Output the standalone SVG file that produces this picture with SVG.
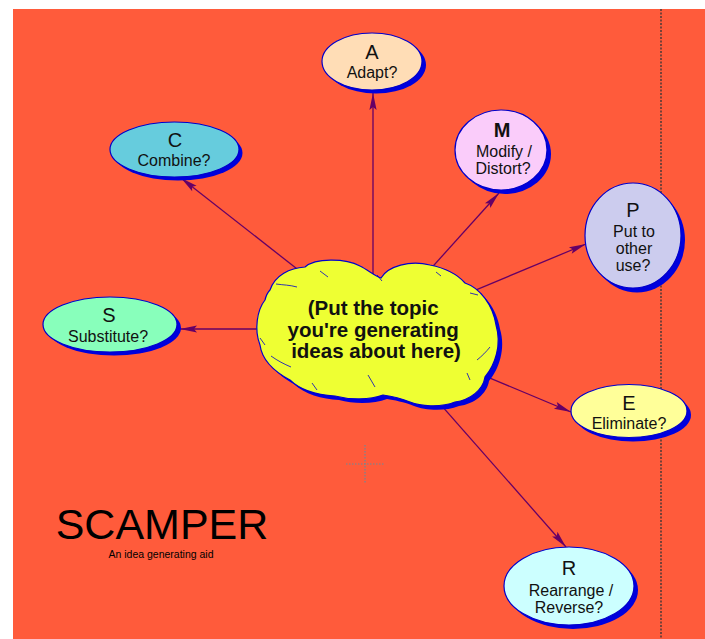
<svg xmlns="http://www.w3.org/2000/svg" width="705" height="639" viewBox="0 0 705 639">
<style>
.shadow{fill:#0000DD;}
.node{stroke:#0000CC;stroke-width:1.2;}
.big{font-family:"Liberation Sans",Arial,Helvetica,sans-serif;font-size:20px;fill:#111;text-anchor:middle;}
.lbl{font-family:"Liberation Sans",Arial,Helvetica,sans-serif;font-size:16px;fill:#111;text-anchor:middle;}
.conn{stroke:#660066;stroke-width:1.3;fill:none;marker-end:url(#ah);}
.crease{stroke:#0000CC;stroke-width:0.8;fill:none;}
</style>
<defs>
<marker id="ah" viewBox="-18 -5 19 10" refX="0" refY="0" markerWidth="19" markerHeight="10" markerUnits="userSpaceOnUse" orient="auto">
<path d="M0,0 L-17,-3.6 L-14,0 L-17,3.6 Z" fill="#660066"/>
</marker>
</defs>
<rect x="0" y="0" width="705" height="639" fill="#FFFFFF"/>
<rect x="13" y="9" width="692" height="630" fill="#FF5B3B"/>
<line x1="661" y1="9" x2="661" y2="639" stroke="#4a3a38" stroke-width="1.5" stroke-dasharray="2 1.5"/>
<g id="crosshair" stroke="#6a8a9a" stroke-width="1.2" stroke-dasharray="1.5 1.5">
<line x1="346" y1="464" x2="384" y2="464"/>
<line x1="365" y1="445" x2="365" y2="483"/>
</g>
<g id="connectors">
<path class="conn" d="M373,320 L373,93"/>
<path class="conn" d="M375,330 L181,178"/>
<path class="conn" d="M380,325 L499,193"/>
<path class="conn" d="M380,330 L586,244"/>
<path class="conn" d="M375,329 L180,329"/>
<path class="conn" d="M375,330 L571,412"/>
<path class="conn" d="M375,330 L566,547"/>
</g>
<g id="topic">
<path class="shadow" transform="translate(4,4)" d="M270,290 C275,275 290,268 305,267 C315,258 345,258 360,266 C368,270 375,276 381,278 C388,266 410,260 430,265 C445,268 458,275 465,283 C480,288 493,305 496,325 C502,345 495,365 485,377 C483,390 470,400 455,402 C440,408 420,406 410,402 C400,398 390,396 383,395 C370,400 350,400 335,396 C318,395 300,390 290,380 C275,372 262,360 260,345 C254,330 257,310 265,300 C266,296 268,292 270,290 Z"/>
<path fill="#EEFF33" stroke="#0000CC" stroke-width="1.2" d="M270,290 C275,275 290,268 305,267 C315,258 345,258 360,266 C368,270 375,276 381,278 C388,266 410,260 430,265 C445,268 458,275 465,283 C480,288 493,305 496,325 C502,345 495,365 485,377 C483,390 470,400 455,402 C440,408 420,406 410,402 C400,398 390,396 383,395 C370,400 350,400 335,396 C318,395 300,390 290,380 C275,372 262,360 260,345 C254,330 257,310 265,300 C266,296 268,292 270,290 Z"/>
<path class="crease" d="M320,271 L328,277 M377,275 L382,281 M436,272 L441,276 M276,284 C283,285 290,285 297,287 M470,293 L478,295 M260,338 L265,345 M271,356 C278,361 284,364 291,367 M477,360 C482,356 486,352 490,347 M368,375 L375,387 M312,383 L317,390 M467,373 L470,380"/>
<text font-family="'Liberation Sans',Arial,Helvetica,sans-serif" font-size="20.5px" font-weight="bold" fill="#111" text-anchor="middle">
<tspan x="376" y="315">(Put the topic</tspan>
<tspan x="376" y="337">you're generating</tspan>
<tspan x="376" y="358">ideas about here)</tspan>
</text>
</g>
<g id="node-A">
<ellipse class="shadow" cx="376" cy="65" rx="50" ry="28.5"/>
<ellipse class="node" cx="372" cy="61.5" rx="50" ry="28.5" fill="#FFDDB6"/>
<text class="big" x="372" y="59">A</text>
<text class="lbl" x="372" y="78">Adapt?</text>
</g>
<g id="node-C">
<ellipse class="shadow" cx="178" cy="153" rx="64.5" ry="27.5"/>
<ellipse class="node" cx="174.5" cy="149.5" rx="64.5" ry="27.5" fill="#66CCDD"/>
<text class="big" x="175" y="147">C</text>
<text class="lbl" x="174" y="166">Combine?</text>
</g>
<g id="node-M">
<ellipse class="shadow" cx="505" cy="154" rx="46" ry="40"/>
<ellipse class="node" cx="501" cy="150" rx="46" ry="40" fill="#FACCFA"/>
<text class="big" x="502" y="137" font-weight="bold">M</text>
<text class="lbl" x="504" y="157">Modify /</text>
<text class="lbl" x="503" y="174">Distort?</text>
</g>
<g id="node-P">
<ellipse class="shadow" cx="637" cy="240" rx="48" ry="52.5"/>
<ellipse class="node" cx="633" cy="235.5" rx="48" ry="52.5" fill="#CCCCEE"/>
<text class="big" x="633" y="217">P</text>
<text class="lbl" x="634" y="237">Put to</text>
<text class="lbl" x="634" y="254">other</text>
<text class="lbl" x="633" y="271">use?</text>
</g>
<g id="node-S">
<ellipse class="shadow" cx="114" cy="328" rx="67" ry="27.5"/>
<ellipse class="node" cx="110" cy="324.5" rx="67" ry="27.5" fill="#88FFBB"/>
<text class="big" x="109" y="322">S</text>
<text class="lbl" x="108" y="342">Substitute?</text>
</g>
<g id="node-E">
<ellipse class="shadow" cx="633" cy="415" rx="58" ry="26.5"/>
<ellipse class="node" cx="629" cy="411" rx="58" ry="26.5" fill="#FFFF99"/>
<text class="big" x="629" y="410">E</text>
<text class="lbl" x="629" y="429">Eliminate?</text>
</g>
<g id="node-R">
<ellipse class="shadow" cx="573" cy="590" rx="65" ry="39"/>
<ellipse class="node" cx="569" cy="586" rx="65" ry="39" fill="#CCFFFF"/>
<text class="big" x="569" y="575">R</text>
<text class="lbl" x="571" y="596">Rearrange /</text>
<text class="lbl" x="569" y="613">Reverse?</text>
</g>
<g id="title">
<text x="162" y="539" font-family="'Liberation Sans',Arial,Helvetica,sans-serif" font-size="43px" fill="#000" text-anchor="middle">SCAMPER</text>
<text x="161" y="558" font-family="'Liberation Sans',Arial,Helvetica,sans-serif" font-size="10.5px" fill="#000" text-anchor="middle">An idea generating aid</text>
</g>
</svg>
